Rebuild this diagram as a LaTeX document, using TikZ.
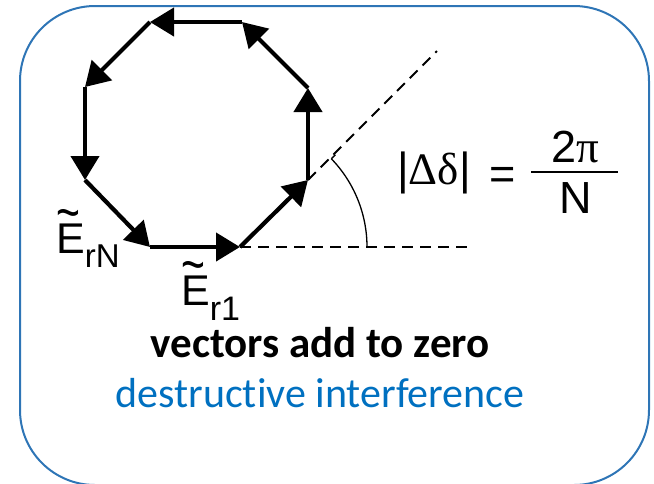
\documentclass[tikz,border=0pt]{standalone}
\usepackage{fontspec}
\usepackage{graphicx}
\setmainfont{Liberation Sans}
\newfontfamily\calib[Ligatures=NoCommon]{Carlito}
\newfontfamily\grk{Liberation Serif}
\usetikzlibrary{arrows.meta}
\definecolor{boxblue}{RGB}{46,117,182}
\definecolor{txtblue}{RGB}{0,112,192}
\newcommand{\tildeE}{\makebox[0pt][l]{\hspace{0.5pt}\raisebox{22pt}{\scalebox{0.95}[1.3]{\char"7E}}}E}
\begin{document}
\begin{tikzpicture}[x=1pt,y=-1pt,
  vec/.style={line width=4.2pt,-{Triangle[length=24pt,width=28pt]}},
  guide/.style={line width=1.8pt,dash pattern=on 11pt off 7pt},
  lab/.style={inner sep=0pt,font=\fontsize{43}{43}\selectfont},
  mlab/.style={inner sep=0pt,font=\fontsize{45}{45}\selectfont},
]
\useasboundingbox (0,0) rectangle (654,483);
\draw[boxblue,line width=2pt,rounded corners=75pt] (20,6) rectangle (649,485);
\coordinate (v1) at (150,247);
\coordinate (v2) at (240,247);
\coordinate (v3) at (308,180);
\coordinate (v4) at (308,88);
\coordinate (v5) at (242,22);
\coordinate (v6) at (150,22);
\coordinate (v7) at (85,87);
\coordinate (v8) at (85,180);
\coordinate (dh) at (473,247);
\coordinate (dd) at (437,51);
% dashed guides and angle
\draw[guide] (v2) -- (dh);
\draw[guide] (v3) -- (dd);
\draw[line width=1.3pt] (v2) ++(127,0) arc[start angle=0,end angle=-44,radius=127] coordinate (ae);
\draw[line width=1.3pt] (ae) -- ++(4,-4);
% vectors
\draw[vec] (v1) -- (v2);
\draw[vec] (v2) -- (v3);
\draw[vec] (v3) -- (v4);
\draw[vec] (v4) -- (v5);
\draw[vec] (v5) -- (v6);
\draw[vec] (v6) -- (v7);
\draw[vec] (v7) -- (v8);
\draw[vec] (v8) -- (v1);
% labels
\node[lab,anchor=base west] (ern) at (56,253) {\tildeE\raisebox{-14pt}{\fontsize{33}{33}\selectfont rN}};
\node[lab,anchor=base west] (er1) at (181,305) {\tildeE\raisebox{-15pt}{\fontsize{34}{34}\selectfont r1}};
\node[mlab,anchor=base west] (dl) at (397,184) {|{\grk Δδ}|};
\node[mlab,anchor=base] (eq) at (503,189) {=};
\node[mlab,anchor=base] (num) at (575,162) {2{\grk π}};
\node[mlab,anchor=base] (den) at (576,213) {N};
\draw[line width=1.8pt] (531,172) -- (618,172);
\node[anchor=base,inner sep=0pt,font=\calib\bfseries\fontsize{43}{43}\selectfont] (t1) at (320,357) {vectors add to zero};
\node[anchor=base,inner sep=0pt,text=txtblue,font=\calib\fontsize{42}{42}\selectfont] (t2) at (320,407) {destructive interference};
\end{tikzpicture}
\end{document}
